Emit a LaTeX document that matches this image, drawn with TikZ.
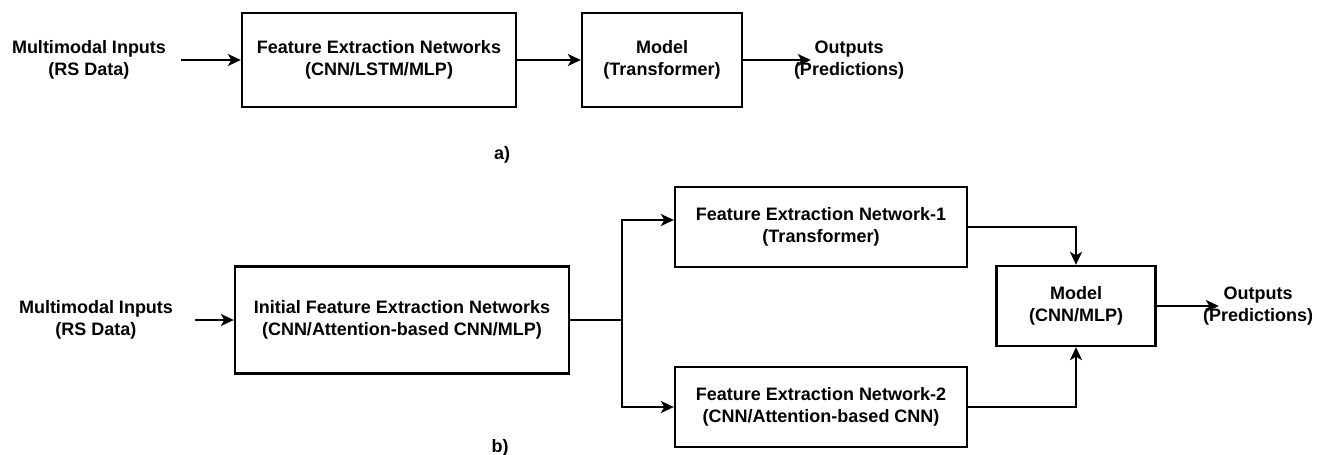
\documentclass[tikz,border=0pt]{standalone}
\usepackage{fontspec}
\setmainfont{Liberation Sans}
\usetikzlibrary{arrows.meta}
\tikzset{>={Stealth[length=13pt,width=12pt,inset=3.5pt]}}

\begin{document}
\begin{tikzpicture}[x=1pt,y=-1pt,font=\fontsize{18}{22}\selectfont\bfseries]

\tikzstyle{blk}=[draw,line width=2.3pt,align=center,inner sep=0pt]
\tikzstyle{txt}=[align=center,inner sep=0pt]
\tikzstyle{con}=[->,line width=2.1pt]

\useasboundingbox (0,0) rectangle (1317,455);

 \node[txt,inner sep=15pt] (inA) at (89,60) {Multimodal Inputs\\(RS Data)};
 \node[blk,minimum width=274pt,minimum height=94pt] (fenA) at (379,60)
  {Feature Extraction Networks\\(CNN/LSTM/MLP)};
 \node[blk,minimum width=160pt,minimum height=94pt] (modA) at (662,60)
  {Model\\(Transformer)};
 \node[txt] (outA) at (849,60) {Outputs\\(Predictions)};
 \node (labA) at (502,155) {a)};

 \draw[con] (inA) -- (fenA);
 \draw[con] (fenA) -- (modA);
 \draw[con] (modA) -- ([xshift=17pt]outA.west);

 \node[txt,inner sep=22pt] (inB) at (96,320) {Multimodal Inputs\\(RS Data)};
 \node[blk,minimum width=334pt,minimum height=107pt] (iniB) at (402,320)
  {Initial Feature Extraction Networks\\(CNN/Attention-based CNN/MLP)};
 \node[blk,minimum width=292pt,minimum height=80pt] (fenB1) at (821,227)
  {Feature Extraction Network-1\\(Transformer)};
 \node[blk,minimum width=292pt,minimum height=80pt] (fenB2) at (821,407)
  {Feature Extraction Network-2\\(CNN/Attention-based CNN)};
 \node[blk,minimum width=159pt,minimum height=80pt] (modB) at (1076,306)
  {Model\\(CNN/MLP)};
 \node[txt] (outB) at (1258,306) {Outputs\\(Predictions)};
 \node (labB) at (500,448) {b)};

 \coordinate (fork) at ([xshift=52pt]iniB.east);
 \draw[con] (inB) -- (iniB);
 \draw[line width=2.1pt] (iniB) -- (fork);
 \draw[con] (fork) |- ([yshift=7pt]fenB1.west);
 \draw[con] (fork) |- (fenB2.west);
 \draw[con] (fenB1) -| (modB);
 \draw[con] (fenB2) -| (modB);
 \draw[con] (modB) -- ([xshift=16pt]outB.west);
\end{tikzpicture}
\end{document}
